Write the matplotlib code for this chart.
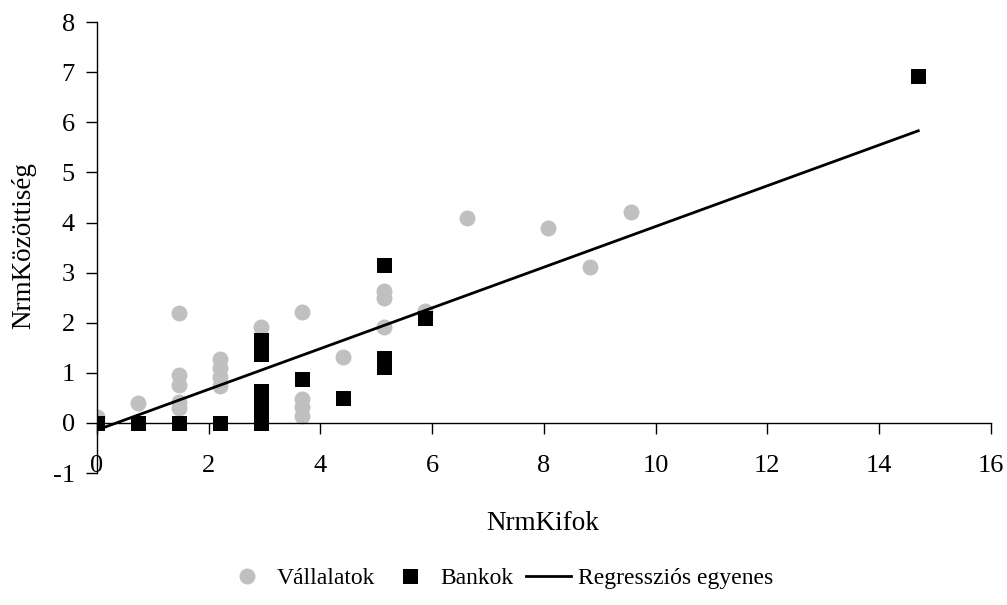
import matplotlib
matplotlib.use("Agg")
import matplotlib.pyplot as plt

plt.rcParams['font.family'] = ['Liberation Serif', 'DejaVu Serif']

# Vállalatok (gray circles)
v_x = [0.0, 0.735, 1.47, 1.47, 1.47, 1.47, 1.47,
       2.2, 2.2, 2.2, 2.2, 2.94,
       3.67, 3.67, 3.67, 3.67, 4.41,
       5.14, 5.14, 5.14, 5.88, 6.62, 8.08, 8.82, 9.55]
v_y = [0.12, 0.40, 2.20, 0.95, 0.76, 0.42, 0.30,
       1.28, 1.09, 0.92, 0.73, 1.92,
       2.22, 0.48, 0.32, 0.13, 1.31,
       2.63, 2.50, 1.92, 2.24, 4.09, 3.90, 3.11, 4.20]

# Bankok (black squares)
b_x = [0.0, 0.735, 1.47, 2.2,
       2.94, 2.94, 2.94, 2.94, 2.94, 2.94, 2.94, 2.94, 2.94,
       3.67, 4.41, 5.14, 5.14, 5.14, 5.88, 14.7]
b_y = [0.0, 0.0, 0.0, 0.0,
       1.65, 1.50, 1.37, 0.64, 0.48, 0.32, 0.18, 0.08, 0.0,
       0.88, 0.49, 3.15, 1.30, 1.12, 2.09, 6.93]

# Regressziós egyenes
reg_x = [0.0, 14.7]
reg_y = [-0.14, 5.83]

x_ticks = [0, 2, 4, 6, 8, 10, 12, 14, 16]
y_ticks = [-1, 0, 1, 2, 3, 4, 5, 6, 7, 8]

fig = plt.figure(figsize=(10.07, 6.05), dpi=100)
ax = fig.add_axes([0.0963, 0.218, 0.8877, 0.7456])

ax.plot(v_x, v_y, linestyle='none', marker='o', ms=11.5, color='#C0C0C0',
        markeredgewidth=0, label='Vállalatok', zorder=2)
ax.plot(b_x, b_y, linestyle='none', marker='s', ms=10.8, color='black',
        markeredgewidth=0, label='Bankok', zorder=3)
ax.plot(reg_x, reg_y, color='black', lw=2.0, label='Regressziós egyenes', zorder=4)

ax.set_xlim(0, 16)
ax.set_ylim(-1, 8)
ax.set_xticks(x_ticks)
ax.set_yticks(y_ticks)
ax.set_xticklabels([str(t) for t in x_ticks])
ax.set_yticklabels([str(t) for t in y_ticks])

ax.spines['top'].set_visible(False)
ax.spines['right'].set_visible(False)
ax.spines['bottom'].set_position(('data', 0))
for s in ['left', 'bottom']:
    ax.spines[s].set_linewidth(1.0)
    ax.spines[s].set_color('black')

ax.tick_params(axis='x', direction='out', length=8, width=1, pad=15, labelsize=19)
ax.tick_params(axis='y', direction='out', length=8, width=1, pad=8, labelsize=19)

fig.text(24 / 1007, 1 - 246 / 605, 'NrmKözöttiség', ha='center', va='center',
         rotation=90, fontsize=19.5)
fig.text(543 / 1007, 1 - 523 / 605, 'NrmKifok', ha='center', va='center', fontsize=19.5)

fig.legend(loc='center', bbox_to_anchor=(499 / 1007, 1 - 578 / 605), ncol=3,
           frameon=False, fontsize=17, handlelength=1.9, handletextpad=0.3,
           columnspacing=0.55)

fig.savefig('out.png', dpi=100)
